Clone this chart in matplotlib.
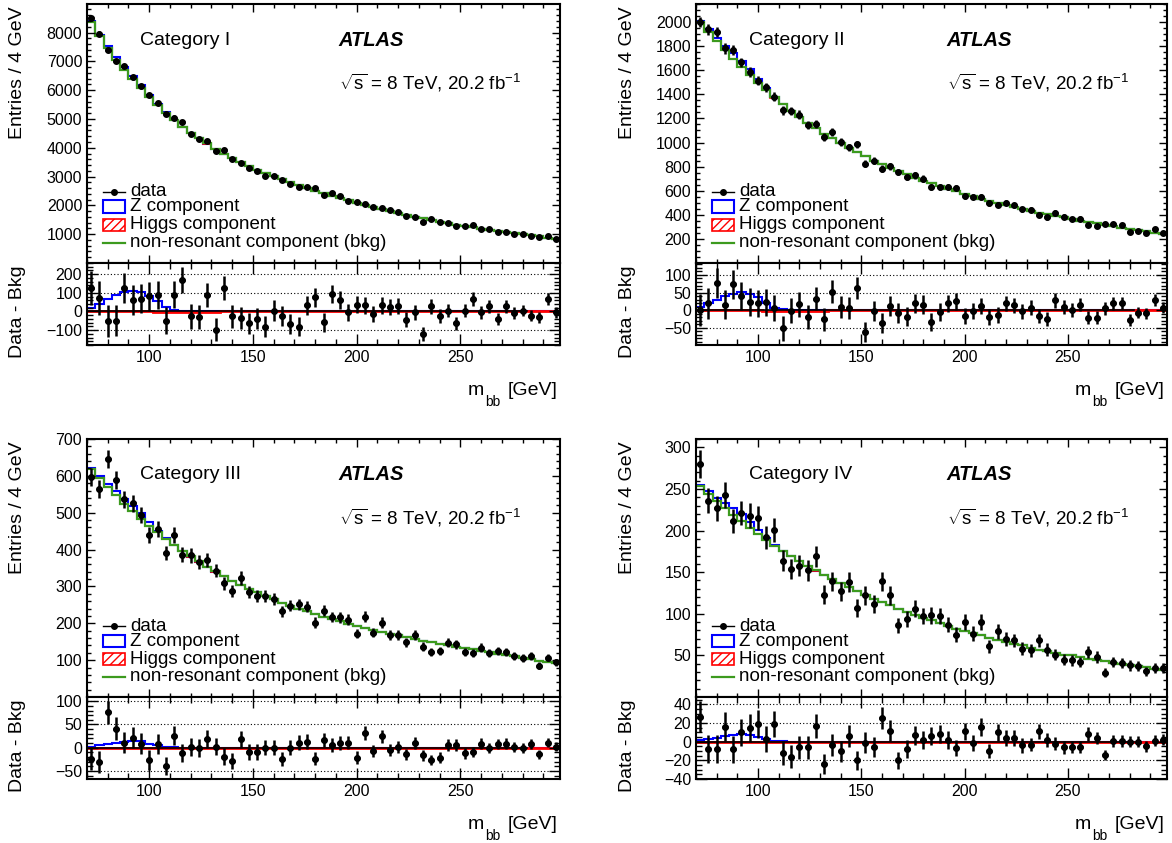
import numpy as np
import matplotlib.pyplot as plt
from matplotlib.patches import Rectangle
from matplotlib.lines import Line2D
from matplotlib.ticker import MultipleLocator, FixedLocator

plt.rcParams['font.family'] = ['Liberation Sans', 'DejaVu Sans']
plt.rcParams['mathtext.fontset'] = 'custom'
plt.rcParams['mathtext.rm'] = 'Liberation Sans'
plt.rcParams['mathtext.it'] = 'Liberation Sans:italic'
plt.rcParams['xtick.direction'] = 'in'
plt.rcParams['ytick.direction'] = 'in'

# 4 GeV bins from 70 to 298 GeV
edges = np.arange(70, 299, 4)
centers = edges[:-1] + 2

# non-resonant background per bin
bkg_1 = [8370, 7880, 7450, 7060, 6710, 6380, 6060, 5750, 5470, 5210,
         4960, 4730, 4510, 4330, 4150, 3970, 3800, 3640, 3495, 3355,
         3235, 3115, 3010, 2905, 2805, 2705, 2610, 2515, 2425, 2335,
         2250, 2170, 2090, 2015, 1940, 1870, 1800, 1735, 1670, 1610,
         1550, 1495, 1440, 1385, 1335, 1285, 1240, 1195, 1150, 1105,
         1065, 1025, 990, 955, 920, 885, 850]
bkg_2 = [2000, 1920, 1840, 1765, 1695, 1625, 1560, 1495, 1435, 1375,
         1320, 1265, 1215, 1165, 1120, 1075, 1035, 995, 955, 920,
         885, 850, 820, 790, 762, 735, 709, 684, 660, 637,
         615, 594, 573, 553, 534, 516, 498, 481, 465, 449,
         434, 419, 405, 391, 378, 365, 352, 340, 328, 316,
         305, 294, 283, 272, 262, 252, 242]
bkg_3 = [619, 594, 570, 547, 525, 504, 484, 465, 447, 430,
         413, 397, 382, 368, 354, 341, 328, 316, 305, 294,
         284, 274, 265, 256, 248, 240, 232, 225, 218, 211,
         205, 199, 193, 187, 182, 177, 172, 167, 162, 158,
         153, 149, 145, 141, 137, 133, 129, 125, 121, 117,
         114, 110, 107, 103, 99, 96, 92]
bkg_4 = [253, 244, 235, 227, 219, 211, 203, 196, 189, 182,
         176, 170, 164, 158, 152, 147, 142, 137, 132, 127,
         123, 118, 114, 110, 106, 102, 99, 95, 92, 89,
         85, 82, 79, 77, 74, 71, 69, 66, 64, 62,
         59, 57, 55, 53, 51, 50, 48, 46, 44, 43,
         41, 40, 38, 37, 36, 34, 33]

# data - bkg per bin (lower panels)
diff_1 = [126, 72, -50, -50, 126, 63, 68, 81, 90, -50,
          90, 170, -27, -30, 90, -99, 126, -27, -36, -63,
          -40, -81, 4, -27, -66, -81, 32, 77, -59, 95,
          63, -5, 36, 32, -13, 32, 23, 29, -45, -4,
          -120, 27, -23, 5, -63, 4, 68, -5, 27, -41,
          27, -9, 5, -23, -32, 66, -4]
diff_2 = [0, 19, 77, 16, 73, 40, 24, 19, 22, 7,
          -52, -2, 17, -19, 33, -26, 52, 8, 5, 64,
          -61, -2, -36, 12, -8, -19, 19, 16, -33, -5,
          19, 25, -17, -2, 12, -19, -14, 19, 14, -3,
          7, -17, -26, 28, 8, 0, 16, -21, -21, 5,
          19, 21, -28, -7, -9, 28, 7]
diff_3 = [-23, -30, 76, 41, 11, 22, 9, -26, 9, -39,
          26, -11, 2, -1, 18, 2, -19, -29, 18, -9,
          -9, 0, 0, -24, 0, 11, 13, -23, 16, 6,
          11, 11, -21, 31, -7, 25, -4, 2, -14, 11,
          -16, -26, -21, 6, 6, -12, -9, 9, -1, 8,
          9, 1, -1, 9, -14, 11, 2]
diff_4 = [27, -8, -8, 16, -8, 10, 15, 19, 3, 19,
          -12, -16, -6, -6, 17, -24, -3, -10, 6, -20,
          -1, -6, 25, 12, -20, -8, 7, 2, 6, 8,
          2, -7, 11, -1, 16, -10, 10, 4, 4, -4,
          -3, 11, 2, -2, -6, -6, -6, 8, 4, -14,
          1, 1, 0, 0, -5, 1, 2]

# Z component (first bins, rest zero)
z_1 = [20, 40, 65, 90, 105, 108, 102, 85, 55, 25, 9, 3, 1]
z_2 = [9, 19, 30, 40, 47, 51, 47, 36, 21, 7, 3, 1]
z_3 = [2, 5, 8, 11, 13, 15, 14, 9, 5, 2, 1]
z_4 = [2, 3, 4.5, 6, 7.5, 8.5, 7.5, 5, 2.5, 1, 0.4]

# Higgs component (tiny, bins from 102 GeV)
h_1 = [-2, -3, -4, -5, -5, -4, -3, -2]
h_2 = [-1, -1.5, -2, -2, -2, -2, -1.5, -1]
h_3 = [-0.5, -1, -1, -1.5, -1.5, -1, -1, -0.5]
h_4 = [-0.3, -0.5, -0.6, -0.7, -0.7, -0.6, -0.5, -0.3]

categories = ['Category I', 'Category II', 'Category III', 'Category IV']
bkgs = [bkg_1, bkg_2, bkg_3, bkg_4]
diffs = [diff_1, diff_2, diff_3, diff_4]
zs = [z_1, z_2, z_3, z_4]
hs = [h_1, h_2, h_3, h_4]
ylims = [(0, 8990), (0, 2150), (0, 700), (0, 310)]
ymajor = [1000, 200, 100, 50]
yminor = [200, 50, 20, 10]
rlims = [(-180, 260), (-99, 134), (-67, 109), (-40, 48)]
rmajor = [100, 50, 50, 20]
rminor = [20, 10, 10, 5]
rgrid = [[200, 100, -100], [100, 50, -50], [100, 50, -50], [40, 20, -20, -40]]

nb = len(centers)
green = '#3c9a1e'

fig = plt.figure(figsize=(11.72, 8.43), dpi=100)
W, H = 1172, 843


def px_axes(l, r, t, b):
    return fig.add_axes([l / W, 1 - b / H, (r - l) / W, (b - t) / H])


cols = [(87, 560), (696, 1167)]
rows = [(4, 263, 345), (439, 697, 779)]

for i in range(4):
    l, r = cols[i % 2]
    t, m, b = rows[i // 2]
    ax = px_axes(l, r, t, m)
    rax = px_axes(l, r, m, b)

    bkg = np.array(bkgs[i], float)
    diff = np.array(diffs[i], float)
    z = np.zeros(nb)
    z[:len(zs[i])] = zs[i]
    h = np.zeros(nb)
    h[8:8 + len(hs[i])] = hs[i]
    data = bkg + diff
    err = np.sqrt(data)

    # main panel
    ax.stairs(bkg + z + h, edges, baseline=None, color='blue', lw=1.5)
    ax.stairs(bkg + h, edges, baseline=None, color='red', lw=1.2)
    ax.stairs(bkg, edges, baseline=None, color=green, lw=1.6)
    ax.errorbar(centers, data, yerr=err, xerr=1.4, fmt='o', color='k',
                ms=4, elinewidth=1.8, capsize=0)
    ax.set_xlim(70, 298)
    ax.set_ylim(*ylims[i])
    ax.xaxis.set_major_locator(MultipleLocator(50))
    ax.xaxis.set_minor_locator(MultipleLocator(10))
    ax.yaxis.set_major_locator(FixedLocator(np.arange(ymajor[i], ylims[i][1] + 1, ymajor[i])))
    ax.yaxis.set_minor_locator(MultipleLocator(yminor[i]))
    ax.tick_params(which='both', top=True, right=True, labelbottom=False, labelsize=11.5)
    ax.tick_params(which='major', length=6, width=1)
    ax.tick_params(which='minor', length=3, width=1)
    ax.set_ylabel('Entries / 4 GeV', fontsize=14, loc='top')
    ax.yaxis.set_label_coords(-0.128, 0.99)

    ax.text(0.112, 0.861, categories[i], transform=ax.transAxes, fontsize=14, va='center')
    ax.text(0.531, 0.861, 'ATLAS', transform=ax.transAxes, fontsize=14.5,
            fontweight='bold', fontstyle='italic', va='center')
    ax.text(0.533, 0.695, r'$\sqrt{\mathregular{s}}$ = 8 TeV, 20.2 fb$^{\mathregular{-1}}$',
            transform=ax.transAxes, fontsize=13.5, va='center')

    # legend drawn by hand
    tx = 0.091
    ax.add_line(Line2D([0.034, 0.080], [0.275, 0.275], transform=ax.transAxes, color='k', lw=1))
    ax.plot([0.057], [0.275], 'o', color='k', ms=4, transform=ax.transAxes)
    ax.add_patch(Rectangle((0.034, 0.192), 0.046, 0.05, transform=ax.transAxes,
                           fill=False, edgecolor='blue', lw=1.5))
    ax.add_patch(Rectangle((0.034, 0.124), 0.046, 0.047, transform=ax.transAxes,
                           fill=False, edgecolor='red', hatch='////', lw=1.2))
    ax.add_line(Line2D([0.034, 0.080], [0.078, 0.078], transform=ax.transAxes, color=green, lw=1.6))
    for yy, lab in zip([0.275, 0.217, 0.147, 0.078],
                       ['data', 'Z component', 'Higgs component', 'non-resonant component (bkg)']):
        ax.text(tx, yy, lab, transform=ax.transAxes, fontsize=13.5, va='center')

    # lower panel
    for g in rgrid[i]:
        rax.axhline(g, color='k', ls=(0, (1, 2)), lw=0.8)
    rax.stairs(z, edges, baseline=None, color='blue', lw=1.5)
    rax.stairs(h, edges, baseline=None, color='red', lw=2)
    rax.plot([70, 282], [0, 0], color='k', lw=1.2)
    rax.errorbar(centers, diff, yerr=err, xerr=1.4, fmt='o', color='k',
                 ms=4, elinewidth=1.8, capsize=0)
    rax.set_xlim(70, 298)
    rax.set_ylim(*rlims[i])
    rax.xaxis.set_major_locator(MultipleLocator(50))
    rax.xaxis.set_minor_locator(MultipleLocator(10))
    rax.yaxis.set_major_locator(MultipleLocator(rmajor[i]))
    rax.yaxis.set_minor_locator(MultipleLocator(rminor[i]))
    rax.tick_params(which='both', top=True, right=True, labelsize=11.5)
    rax.tick_params(which='major', length=8, width=1)
    rax.tick_params(which='minor', length=4, width=1)
    rax.set_ylabel('Data - Bkg', fontsize=14, loc='top')
    rax.yaxis.set_label_coords(-0.128, 0.97)

    rax.text(0.994, -0.61, '[GeV]', transform=rax.transAxes, fontsize=14, ha='right', va='baseline')
    rax.text(0.805, -0.61, 'm', transform=rax.transAxes, fontsize=14, ha='left', va='baseline')
    rax.text(0.841, -0.75, 'bb', transform=rax.transAxes, fontsize=10, ha='left', va='baseline')

    for a in (ax, rax):
        for s in a.spines.values():
            s.set_linewidth(1.5)

fig.savefig('out.png', dpi=100)
